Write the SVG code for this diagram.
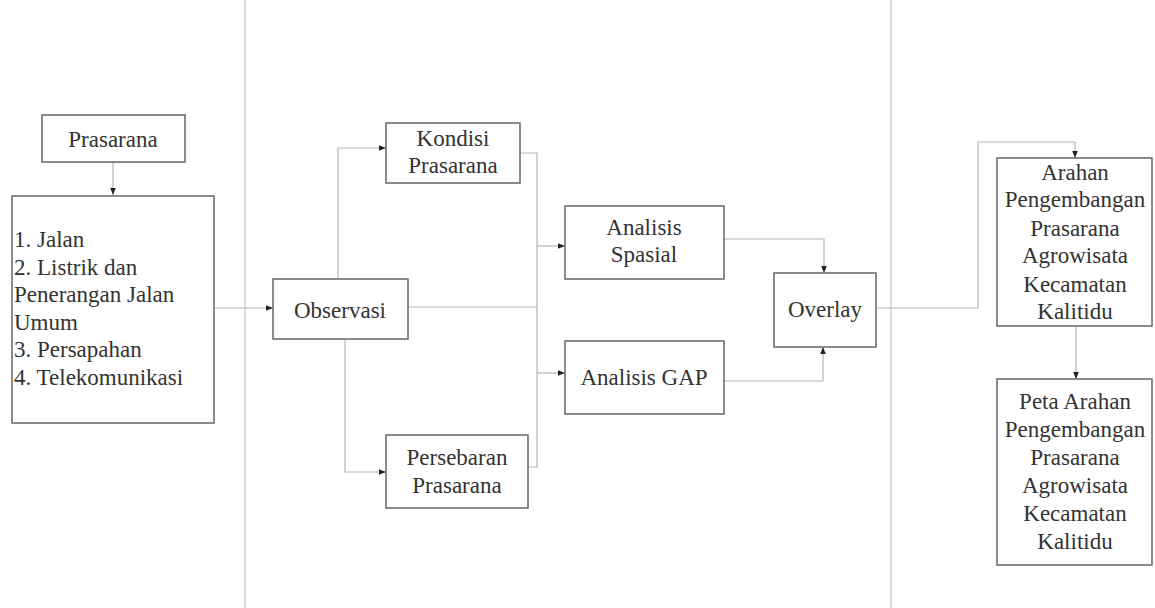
<svg xmlns="http://www.w3.org/2000/svg" width="1155" height="608" viewBox="0 0 1155 608" font-family="Liberation Serif, DejaVu Serif, serif">
<style>
.box{fill:#fff;stroke:#666;stroke-width:1.5}
.t{font-size:23px;fill:#333}
.c{text-anchor:middle}
.ln{fill:none;stroke:#b5b5b5;stroke-width:1.2}
.sep{stroke:#dcdcdc;stroke-width:2}
</style>
<defs>
<marker id="ah" viewBox="0 0 10 10" refX="10" refY="5" markerWidth="7" markerHeight="7" markerUnits="userSpaceOnUse" orient="auto">
<path d="M0,1 L10,5 L0,9 Z" fill="#222"/>
</marker>
</defs>
<g id="separators">
<line class="sep" x1="245" y1="0" x2="245" y2="608"/>
<line class="sep" x1="891" y1="0" x2="891" y2="608"/>
</g>
<g id="connectors">
<path class="ln" d="M113,162 V195" marker-end="url(#ah)"/>
<path class="ln" d="M214,308 H273" marker-end="url(#ah)"/>
<path class="ln" d="M338,279 V148 H386" marker-end="url(#ah)"/>
<path class="ln" d="M345,339 V472 H386" marker-end="url(#ah)"/>
<path class="ln" d="M408,307 H537"/>
<path class="ln" d="M520,153 H537 V467 H528"/>
<path class="ln" d="M537,246 H565" marker-end="url(#ah)"/>
<path class="ln" d="M537,373 H565" marker-end="url(#ah)"/>
<path class="ln" d="M724,239 H824 V273" marker-end="url(#ah)"/>
<path class="ln" d="M724,381 H823 V347" marker-end="url(#ah)"/>
<path class="ln" d="M876,308 H978 V142 H1075 V158" marker-end="url(#ah)"/>
<path class="ln" d="M1076,326 V379" marker-end="url(#ah)"/>
</g>
<g id="prasarana">
<rect class="box" x="42" y="115" width="143" height="47"/>
<text class="t c" x="113" y="147" font-family="Liberation Serif, serif">Prasarana</text>
</g>
<g id="list">
<rect class="box" x="12" y="196" width="202" height="227"/>
<text class="t" x="14" y="247">1. Jalan</text>
<text class="t" x="14" y="275">2. Listrik dan</text>
<text class="t" x="14" y="302">Penerangan Jalan</text>
<text class="t" x="14" y="330">Umum</text>
<text class="t" x="14" y="357">3. Persapahan</text>
<text class="t" x="14" y="385">4. Telekomunikasi</text>
</g>
<g id="observasi">
<rect class="box" x="273" y="279" width="135" height="60"/>
<text class="t c" x="340" y="318">Observasi</text>
</g>
<g id="kondisi">
<rect class="box" x="386" y="123" width="134" height="60"/>
<text class="t c" x="453" y="146">Kondisi</text>
<text class="t c" x="453" y="173">Prasarana</text>
</g>
<g id="persebaran">
<rect class="box" x="386" y="435" width="142" height="73"/>
<text class="t c" x="457" y="465">Persebaran</text>
<text class="t c" x="457" y="493">Prasarana</text>
</g>
<g id="spasial">
<rect class="box" x="565" y="206" width="159" height="73"/>
<text class="t c" x="644" y="235">Analisis</text>
<text class="t c" x="644" y="262">Spasial</text>
</g>
<g id="gap">
<rect class="box" x="565" y="341" width="159" height="73"/>
<text class="t c" x="644" y="385">Analisis GAP</text>
</g>
<g id="overlay">
<rect class="box" x="774" y="273" width="102" height="74"/>
<text class="t c" x="825" y="317">Overlay</text>
</g>
<g id="arahan">
<rect class="box" x="997" y="158" width="155" height="168"/>
<text class="t c" x="1075" y="180">Arahan</text>
<text class="t c" x="1075" y="207">Pengembangan</text>
<text class="t c" x="1075" y="236">Prasarana</text>
<text class="t c" x="1075" y="263">Agrowisata</text>
<text class="t c" x="1075" y="292">Kecamatan</text>
<text class="t c" x="1075" y="319">Kalitidu</text>
</g>
<g id="peta">
<rect class="box" x="997" y="379" width="155" height="186"/>
<text class="t c" x="1075" y="409">Peta Arahan</text>
<text class="t c" x="1075" y="437">Pengembangan</text>
<text class="t c" x="1075" y="465">Prasarana</text>
<text class="t c" x="1075" y="493">Agrowisata</text>
<text class="t c" x="1075" y="521">Kecamatan</text>
<text class="t c" x="1075" y="549">Kalitidu</text>
</g>
</svg>
